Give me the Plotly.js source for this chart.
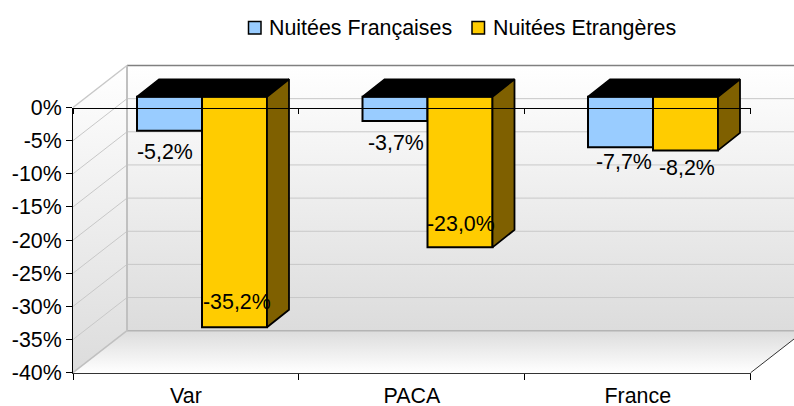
<!DOCTYPE html>
<html><head><meta charset="utf-8">
<script src="https://cdn.plot.ly/plotly-3.0.0.min.js"></script>
<style>html,body{margin:0;padding:0;background:#fff}#c{width:794px;height:406px}</style>
</head><body><div id="c"></div>
<script>
const categories = ['Var', 'PACA', 'France'];
const francaises = [-5.2, -3.7, -7.7];
const etrangeres = [-35.2, -23.0, -8.2];
const seriesNames = ['Nuitées Françaises', 'Nuitées Etrangères'];
const tickValues = [0, -5, -10, -15, -20, -25, -30, -35, -40];
const tickLabels = ['0%', '-5%', '-10%', '-15%', '-20%', '-25%', '-30%', '-35%', '-40%'];
const labelShiftF = [21, 22, 14.5];
const labelShiftE = [-25.5, -23, 18];
const labelDxF = [-5, 0.5, 3.5];
const labelDxE = [2, 1, 1.5];

const W = 794, H = 406, FONT = '"Liberation Sans", Arial, sans-serif', FS = 21.4;
const fx = p => p / W, fy = p => 1 - p / H;
const front = {l: 73, r: 750.7, t: 107.5, b: 372.7};
const depth = {x: 54, y: 42};
const back = {l: front.l + depth.x, r: front.r + depth.x, t: front.t - depth.y, b: front.b - depth.y};
const step = (front.b - front.t) / 8;

// bar plane
const bar = {l: 89.25, r: 765.75, t: 96.7, h: 262};
const unitX = (bar.r - bar.l) / 3, unitY = bar.h / 40;
const bw = 65 / unitX, ddx = 22 / unitX, ddy = 17.5 / unitY;
const headroom = 5;

const traces = [];
function bg(x, y, o) { traces.push(Object.assign({x, y, xaxis: 'x', yaxis: 'y', mode: 'lines', hoverinfo: 'skip', showlegend: false, line: {width: 0}}, o)); }
function ln(x, y, color, width) { bg(x, y, {line: {color, width}}); }
const grad = (a, b, s, e) => ({type: 'vertical', start: s, stop: e, colorscale: [[0, a], [1, b]]});

// walls and floor
bg([back.l, back.r, back.r, back.l, back.l], [back.t, back.t, back.b, back.b, back.t], {fill: 'toself', fillgradient: grad('#ffffff', '#dcdcdc', back.t, back.b)});
bg([front.l, back.l, back.l, front.l, front.l], [front.t, back.t, back.b, front.b, front.t], {fill: 'toself', fillgradient: grad('#ffffff', '#dcdcdc', back.t, front.b)});
bg([front.l, back.l, back.r, front.r, front.l], [front.b, back.b, back.b, front.b, front.b], {fill: 'toself', fillgradient: grad('#dcdcdc', '#ffffff', back.b, front.b)});
// gridlines
tickValues.forEach((v, i) => {
  const yf = front.t + i * step, yb = yf - depth.y;
  if (i > 0 && i < 8) { ln([front.l, back.l, back.r], [yf, yb, yb], '#c8c8c8', 1); }
});
ln([back.l, back.r], [back.t, back.t], '#808080', 1.6);
ln([back.l, back.r], [back.b, back.b], '#b4b4b4', 1.5);
ln([back.l, back.l], [back.t, back.b], '#c0c0c0', 2);
ln([front.l, back.l], [front.t, back.t], '#c8c8c8', 1.5);
ln([front.l, back.l], [front.b, back.b], '#c0c0c0', 1.5);
ln([front.r, back.r], [front.b, back.b], '#333333', 1);

// 3D faces of the bars, on the bar plane
const ix = categories.map((c, i) => i);
ix.forEach(i => {
  const L = i - bw, R = i + bw;
  traces.push({x: [L, L + ddx, R + ddx, R, L], y: [0, ddy, ddy, 0, 0], xaxis: 'x2', yaxis: 'y2', mode: 'lines', fill: 'toself', fillcolor: '#000000', line: {color: '#000', width: 1.5}, hoverinfo: 'skip', showlegend: false});
  const v = etrangeres[i];
  traces.push({x: [R, R + ddx, R + ddx, R, R], y: [0, ddy, v + ddy, v, 0], xaxis: 'x2', yaxis: 'y2', mode: 'lines', fill: 'toself', fillcolor: '#7f6000', line: {color: '#000', width: 1.8}, hoverinfo: 'skip', showlegend: false});
});
traces.push({type: 'bar', x: ix, y: francaises, name: seriesNames[0], xaxis: 'x2', yaxis: 'y2', width: bw, offset: -bw, marker: {color: '#99ccff', line: {color: '#000', width: 2}}, cliponaxis: false, showlegend: false});
traces.push({type: 'bar', x: ix, y: etrangeres, name: seriesNames[1], xaxis: 'x2', yaxis: 'y2', width: bw, offset: 0, marker: {color: '#ffcc00', line: {color: '#000', width: 2}}, cliponaxis: false, showlegend: false});

// front-plane axes
traces.push({x: categories, y: [null, null, null], xaxis: 'x3', yaxis: 'y3', mode: 'none', hoverinfo: 'skip', showlegend: false});
traces.push({x: categories, y: [null, null, null], xaxis: 'x4', yaxis: 'y3', mode: 'none', hoverinfo: 'skip', showlegend: false});

const fmt = v => v.toFixed(1).replace('.', ',') + '%';
const anns = [];
ix.forEach(i => {
  anns.push({xref: 'x2', yref: 'y2', x: i - bw / 2, y: francaises[i], xshift: labelDxF[i], yshift: -labelShiftF[i], text: fmt(francaises[i]), showarrow: false, font: {family: FONT, size: FS, color: '#000'}, borderpad: 0, xanchor: 'center', yanchor: 'middle'});
  anns.push({xref: 'x2', yref: 'y2', x: i + bw / 2, y: etrangeres[i], xshift: labelDxE[i], yshift: -labelShiftE[i], text: fmt(etrangeres[i]), showarrow: false, font: {family: FONT, size: FS, color: '#000'}, borderpad: 0, xanchor: 'center', yanchor: 'middle'});
});
// legend
const swatches = [[248.5, '#99ccff'], [472, '#ffcc00']];
const legendText = [267.5, 491.5];
const shapes = swatches.map(s => ({type: 'rect', xref: 'x', yref: 'y', x0: s[0], x1: s[0] + 12.5, y0: 21.5, y1: 34, fillcolor: s[1], line: {color: '#000', width: 1.5}}));
seriesNames.forEach((n, i) => anns.push({xref: 'x', yref: 'y', x: legendText[i], y: 27.5, text: n, showarrow: false, xanchor: 'left', yanchor: 'middle', borderpad: 0, font: {family: FONT, size: FS, color: '#000'}}));

const hidden = {visible: false, fixedrange: true, showgrid: false, zeroline: false};
const layout = {
  width: W, height: H, margin: {l: 0, r: 0, t: 0, b: 0, pad: 0}, paper_bgcolor: '#fff', plot_bgcolor: 'rgba(0,0,0,0)',
  showlegend: false, hovermode: false, bargap: 0, barmode: 'overlay', shapes, annotations: anns,
  font: {family: FONT, size: FS, color: '#000'},
  xaxis: Object.assign({}, hidden, {domain: [0, 1], range: [0, W], anchor: 'y'}),
  yaxis: Object.assign({}, hidden, {domain: [0, 1], range: [H, 0], anchor: 'x'}),
  xaxis2: Object.assign({}, hidden, {domain: [fx(bar.l), fx(bar.r)], range: [-0.5, 2.5], anchor: 'y2'}),
  yaxis2: Object.assign({}, hidden, {domain: [fy(bar.t + bar.h), fy(bar.t - headroom * unitY)], range: [-40, headroom], anchor: 'x2'}),
  xaxis3: {domain: [fx(front.l), fx(front.r)], anchor: 'y3', type: 'category', categoryorder: 'array', categoryarray: categories, tickson: 'boundaries', ticks: 'outside', ticklen: 6, tickwidth: 1, tickcolor: '#000', showline: true, linecolor: '#333', linewidth: 1.5, showgrid: false, zeroline: false, ticklabelstandoff: 3, tickfont: {family: FONT, size: FS, color: '#000'}, range: [-0.5, 2.5], fixedrange: true},
  yaxis3: {domain: [fy(front.b), fy(front.t)], anchor: 'x3', range: [-40, 0], tickmode: 'array', tickvals: tickValues, ticktext: tickLabels, ticks: 'outside', ticklen: 6, tickwidth: 1, tickcolor: '#000', showline: true, linecolor: '#000', linewidth: 1, showgrid: false, zeroline: false, tickfont: {family: FONT, size: FS, color: '#000'}, fixedrange: true},
  xaxis4: {overlaying: 'x3', anchor: 'free', position: fy(front.t), side: 'bottom', type: 'category', categoryorder: 'array', categoryarray: categories, tickson: 'boundaries', ticks: 'outside', ticklen: 5, tickwidth: 1, tickcolor: '#000', showline: true, linecolor: '#000', linewidth: 1, showticklabels: false, showgrid: false, zeroline: false, range: [-0.5, 2.5], fixedrange: true}
};
Plotly.newPlot('c', traces, layout, {staticPlot: true, displayModeBar: false});
</script></body></html>
